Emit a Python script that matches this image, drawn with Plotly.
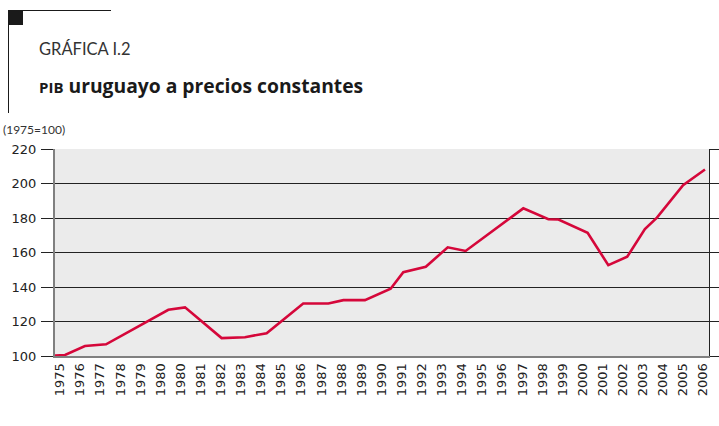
import plotly.graph_objects as go

# Category labels along the x axis (as printed, including the repeated 1980)
year_labels = ["1975", "1976", "1977", "1978", "1979", "1980", "1980", "1981",
               "1982", "1983", "1984", "1985", "1986", "1987", "1988", "1989",
               "1990", "1991", "1992", "1993", "1994", "1995", "1996", "1997",
               "1998", "1999", "2000", "2001", "2002", "2003", "2004", "2005",
               "2006"]
y_ticks = [100, 120, 140, 160, 180, 200, 220]

# Line vertices: position along the label slots and index value (1975=100)
slot_pos = [-0.25, 0.25, 1.24, 2.29, 5.39, 6.22, 8.04, 9.2, 10.28, 12.1, 13.35,
            14.1, 15.17, 16.45, 17.08, 18.2, 19.29, 20.18, 23.05, 24.3, 24.8,
            26.25, 27.28, 28.22, 29.1, 29.7, 31.0, 32.09]
pib_index = [100.3, 100.6, 105.8, 106.8, 126.8, 128.2, 110.4, 110.9, 113.2,
             130.4, 130.4, 132.4, 132.4, 139.0, 148.6, 151.7, 163.0, 160.9,
             185.6, 179.3, 179.1, 171.4, 152.7, 157.5, 173.6, 180.2, 199.0,
             208.1]

fig = go.Figure()
fig.add_trace(go.Scatter(x=slot_pos, y=pib_index, mode="lines",
                         line=dict(color="#d5073a", width=2.6),
                         hoverinfo="skip", showlegend=False))
# invisible trace so the right-hand axis is drawn
fig.add_trace(go.Scatter(x=[slot_pos[0]], y=[pib_index[0]], yaxis="y2",
                         mode="markers", marker=dict(opacity=0),
                         hoverinfo="skip", showlegend=False))

fig.update_layout(
    width=719, height=426,
    margin=dict(l=55, r=10, t=149, b=70),
    paper_bgcolor="white",
    plot_bgcolor="#ebebeb",
    font=dict(family="DejaVu Sans", size=13, color="#222"),
    xaxis=dict(
        range=[-0.25, 32.29],
        tickmode="array",
        tickvals=list(range(len(year_labels))),
        ticktext=year_labels,
        tickangle=-90,
        ticks="",
        showgrid=False,
        zeroline=False,
        automargin=False,
        showline=True, linecolor="#808080", linewidth=2,
        tickfont=dict(family="DejaVu Sans", size=13, color="#222"),
        fixedrange=True,
    ),
    yaxis=dict(
        range=[100, 220],
        tickmode="array", tickvals=y_ticks,
        ticks="outside", ticklen=12, tickcolor="#222", tickwidth=1,
        showgrid=True, gridcolor="#222", gridwidth=1,
        zeroline=False,
        automargin=False,
        showline=True, linecolor="#808080", linewidth=2,
        tickfont=dict(family="DejaVu Sans", size=13, color="#222"),
        ticklabelstandoff=2,
        fixedrange=True,
    ),
    yaxis2=dict(
        range=[100, 220], overlaying="y", side="right",
        tickmode="array", tickvals=y_ticks,
        ticks="outside", ticklen=10, tickcolor="#222", tickwidth=1,
        showticklabels=False, showgrid=False, zeroline=False,
        automargin=False,
        showline=True, linecolor="#222", linewidth=1,
        fixedrange=True,
    ),
)

# Decorative frame elements of the heading
fig.add_shape(type="rect", xref="paper", yref="paper",
              x0=-47/654, x1=-32/654, y0=1 + (149-10)/207, y1=1 + (149-25)/207,
              fillcolor="#1a1a1a", line=dict(width=0))
fig.add_shape(type="line", xref="paper", yref="paper",
              x0=-32/654, x1=56/654, y0=1 + (149-10.5)/207, y1=1 + (149-10.5)/207,
              line=dict(color="#1a1a1a", width=1))
fig.add_shape(type="line", xref="paper", yref="paper",
              x0=-46.5/654, x1=-46.5/654, y0=1 + (149-25)/207, y1=1 + (149-113)/207,
              line=dict(color="#1a1a1a", width=1))

fig.add_annotation(xref="paper", yref="paper", x=-18/654, y=1 + (149-61)/207,
                   xanchor="left", yanchor="bottom", showarrow=False,
                   text="GRÁFICA I.2",
                   font=dict(family="Lato", size=16.5, color="#333333"))
fig.add_annotation(xref="paper", yref="paper", x=-18/654, y=1 + (149-101)/207,
                   xanchor="left", yanchor="bottom", showarrow=False,
                   text="<b><span style='font-size:15px'>PIB</span> uruguayo a precios constantes</b>",
                   font=dict(family="Open Sans", size=19.3, color="#1a1a1a"))
fig.add_annotation(xref="paper", yref="paper", x=-54/654, y=1 + (149-139)/207,
                   xanchor="left", yanchor="bottom", showarrow=False,
                   text="(1975=100)",
                   font=dict(family="Lato", size=12, color="#333333"))

fig.write_html("out.html", config={"displayModeBar": False},
               post_script="document.body.style.margin='0';")
